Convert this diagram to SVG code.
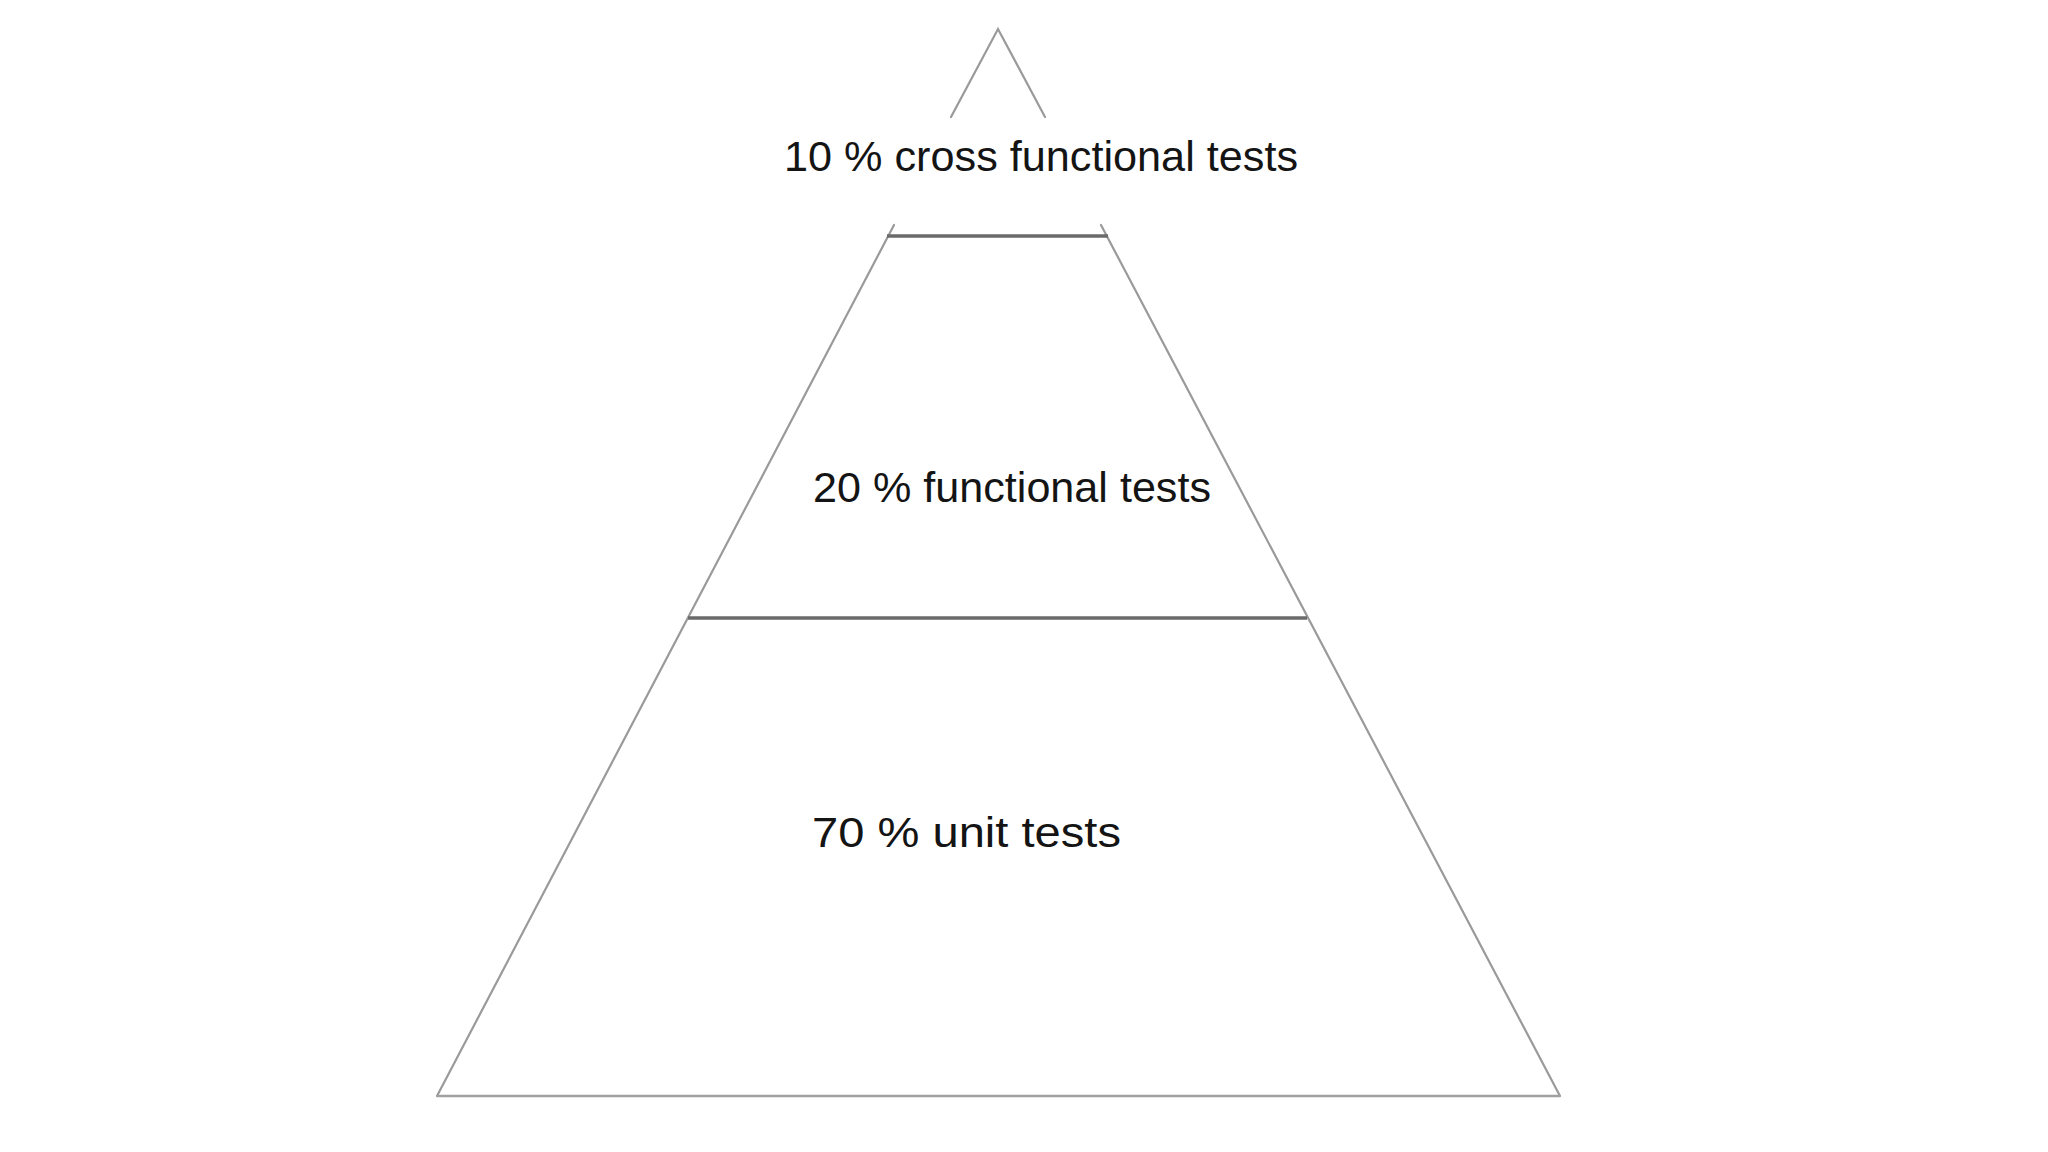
<svg xmlns="http://www.w3.org/2000/svg" width="2048" height="1152" viewBox="0 0 2048 1152">
<style>
.side{stroke:#9a9a9a;stroke-width:2.2;fill:none;stroke-linecap:round}
.rule{stroke:#6a6a6a;stroke-width:3.4;fill:none}
.base{stroke:#a0a0a0;stroke-width:2.6;fill:none}
.lbl{font-family:"Liberation Sans",Arial,sans-serif;font-size:43px;fill:#141414}
</style>
<rect width="2048" height="1152" fill="#ffffff"/>
<g id="apex">
<polyline class="side" points="951,117 998,29 1045,117"/>
<text class="lbl" x="784" y="171" textLength="514" lengthAdjust="spacingAndGlyphs">10 % cross functional tests</text>
</g>
<g id="sides">
<line class="side" x1="894" y1="225" x2="437" y2="1096"/>
<line class="side" x1="1101" y1="225" x2="1560" y2="1096"/>
</g>
<g id="functional">
<line class="rule" x1="887" y1="236" x2="1108" y2="236"/>
<text class="lbl" x="813" y="502" textLength="398" lengthAdjust="spacingAndGlyphs">20 % functional tests</text>
</g>
<g id="unit">
<line class="rule" x1="688" y1="618" x2="1307" y2="618"/>
<text class="lbl" x="812" y="847" textLength="309" lengthAdjust="spacingAndGlyphs">70 % unit tests</text>
<line class="base" x1="437" y1="1096" x2="1560" y2="1096"/>
</g>
</svg>
